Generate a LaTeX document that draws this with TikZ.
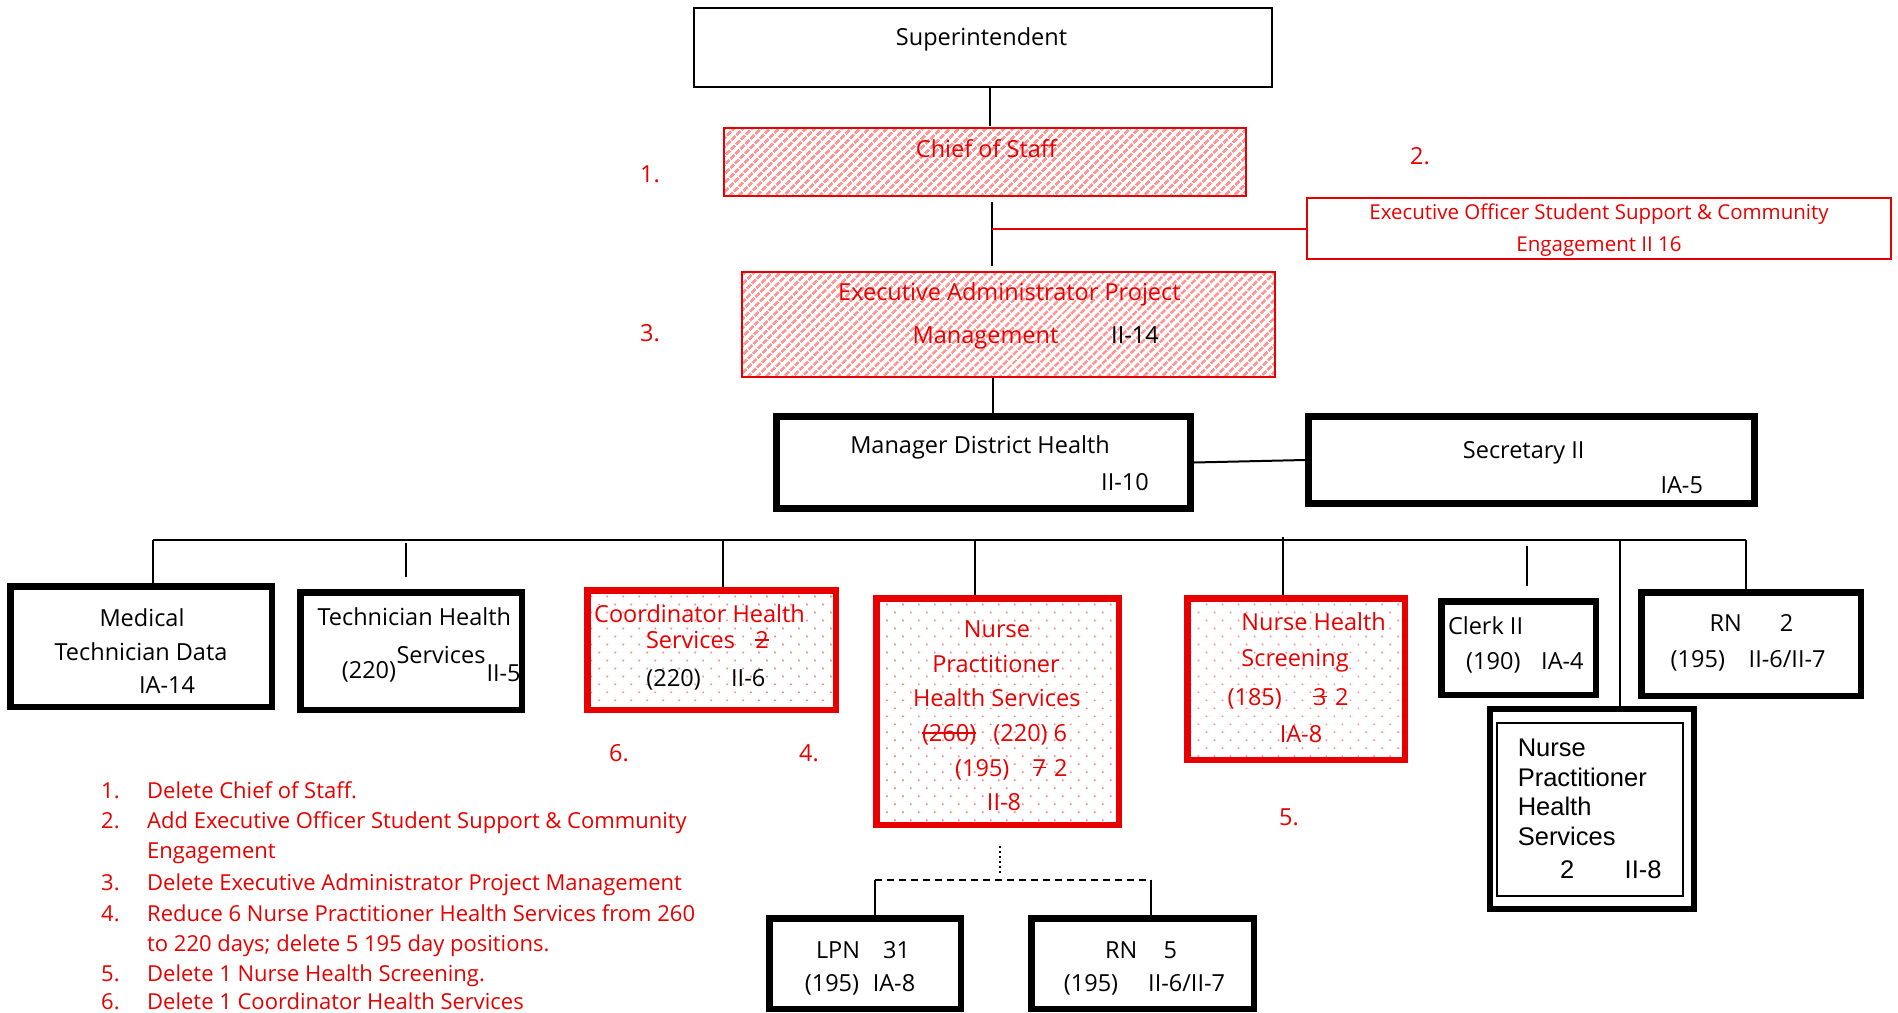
\documentclass[tikz,border=0pt]{standalone}
\usepackage{fontspec}
\setmainfont{Open Sans}
\newfontfamily\arialf{Liberation Sans}
\usetikzlibrary{patterns.meta}
\definecolor{myred}{RGB}{232,0,0}
\definecolor{hatchred}{RGB}{255,150,150}
\definecolor{dotred}{RGB}{250,135,135}
\newcommand{\strk}[1]{\begingroup\setbox0=\hbox{#1}\rlap{\rule[0.33em]{\wd0}{0.07em}}\box0\endgroup}
\newcommand{\fA}{\fontsize{23.5}{30}\selectfont}
\newcommand{\fB}{\fontsize{20.5}{26}\selectfont}
\newcommand{\fL}{\fontsize{22}{31}\selectfont}
\begin{document}
\begin{tikzpicture}[x=1pt,y=-1pt,
  bx/.style={draw=black, line width=2pt, inner sep=0pt},
  tbx/.style={draw=black, line width=6.5pt, inner sep=0pt},
  rbx/.style={draw=myred, line width=2pt, inner sep=0pt},
  hbx/.style={draw=myred, line width=2pt, inner sep=0pt, pattern={Lines[angle=45,distance=6.4pt,line width=3.2pt]}, pattern color=hatchred},
  dbx/.style={draw=myred, line width=6.5pt, inner sep=0pt, pattern={Dots[angle=45,radius=1.2pt,distance=11.3pt]}, pattern color=dotred},
  conn/.style={draw=black, line width=2pt},
  dotline/.style={draw=black, line width=2.5pt, dash pattern=on 2pt off 3pt},
  dashline/.style={draw=black, line width=2pt, dash pattern=on 7pt off 5pt},
  tx/.style={inner sep=0pt, anchor=base, font=\fA},
  txl/.style={inner sep=0pt, anchor=base west, font=\fA},
  rtx/.style={tx, text=myred},
  rtxl/.style={txl, text=myred},
  lst/.style={inner sep=0pt, anchor=base west, font=\fL, text=myred},
  atx/.style={inner sep=0pt, anchor=base west, font=\arialf\fontsize{25.5}{30}\selectfont}
]
\useasboundingbox (0,0) rectangle (1898,1012);

% boxes
\node[bx, minimum width=578pt, minimum height=79pt] (sup) at (983,47.5) {};
\node[hbx, minimum width=522pt, minimum height=68pt] (chief) at (985,162) {};
\node[hbx, minimum width=533pt, minimum height=105pt] (execadm) at (1008.5,324.5) {};
\node[rbx, minimum width=584pt, minimum height=61pt] (execoff) at (1599,228.5) {};
\node[tbx, line width=7pt, minimum width=414pt, minimum height=92pt] (mgr) at (983.5,462.5) {};
\node[tbx, line width=7pt, minimum width=446pt, minimum height=87pt] (sec) at (1531.5,460) {};
\node[tbx, minimum width=261.5pt, minimum height=120.5pt] (med) at (141,646.5) {};
\node[tbx, minimum width=221.5pt, minimum height=117.5pt] (tech) at (411,651) {};
\node[dbx, minimum width=248.5pt, minimum height=119.5pt] (coord) at (711.5,650) {};
\node[dbx, minimum width=242.5pt, minimum height=226.5pt] (np) at (997.5,711.5) {};
\node[dbx, minimum width=217.5pt, minimum height=161.5pt] (nhs) at (1296,679) {};
\node[tbx, minimum width=154.5pt, minimum height=93.5pt] (clerk) at (1518.5,648) {};
\node[tbx, minimum width=219.5pt, minimum height=103.5pt] (rntwo) at (1751,644) {};
\node[tbx, line width=6pt, minimum width=204pt, minimum height=200pt] (nphs) at (1592,809) {};
\node[bx, minimum width=186pt, minimum height=173pt] (nphsin) at (1590,809.5) {};
\node[tbx, minimum width=191.5pt, minimum height=90.5pt] (lpn) at (865,963.5) {};
\node[tbx, minimum width=222.5pt, minimum height=90.5pt] (rnfive) at (1142.5,963.5) {};

% connectors
\draw[conn] (990,0 |- sup.south) -- (990,0 |- chief.north);
\draw[conn, shorten <=4pt, shorten >=5pt] (992,0 |- chief.south) -- (992,0 |- execadm.north);
\draw[conn, draw=myred] (992,0 |- execoff.west) -- (execoff.west);
\draw[conn] (993,0 |- execadm.south) -- (993,0 |- mgr.north);
\draw[conn] (mgr.east) -- (sec.west);
\coordinate (busl) at (153,540);
\coordinate (busr) at (1746,540);
\draw[conn] (busl) -- (busr);
\draw[conn] (busl) -- (busl |- med.north);
\draw[conn, shorten <=3pt, shorten >=12pt] (406,540) -- (406,0 |- tech.north);
\draw[conn] (723,540) -- (723,0 |- coord.north);
\draw[conn] (975,540) -- (975,0 |- np.north);
\draw[conn] (1283,537) -- (1283,0 |- nhs.north);
\draw[conn, shorten <=6pt, shorten >=12pt] (1527,540) -- (1527,0 |- clerk.north);
\draw[conn] (1620,540) -- (1620,0 |- nphs.north);
\draw[conn] (busr) -- (busr |- rntwo.north);
\coordinate (npdrop) at (1000,846);
\coordinate (npdropend) at (1000,873);
\draw[dotline] (npdrop) -- (npdropend);
\coordinate (dl) at (875,880);
\coordinate (dr) at (1151,880);
\draw[dashline] (dl) -- (dr);
\draw[conn] (dl) -- (dl |- lpn.north);
\draw[conn] (dr) -- (dr |- rnfive.north);

% top texts
\node[tx] (tsup) at (981.5,45) {Superintendent};
\node[rtx] (tchief) at (986.4,157) {Chief of Staff};
\node[rtx] (tea1) at (1009.4,300) {Executive Administrator Project};
\node[rtx] (tea2) at (985.5,343.3) {Management};
\node[tx] (tea3) at (1135,343.3) {II-14};
\node[rtx, font=\fB] (teo1) at (1599,219.3) {Executive Officer Student Support \& Community};
\node[rtx, font=\fB] (teo2) at (1599,251) {Engagement II 16};
\node[tx] (tmgr1) at (980,453.3) {Manager District Health};
\node[tx] (tmgr2) at (1125,490) {II-10};
\node[tx] (tsec1) at (1523.7,458.3) {Secretary II};
\node[tx] (tsec2) at (1681.7,493.3) {IA-5};
\node[rtx] (m1) at (650,182.5) {1.};
\node[rtx] (m2) at (1420,164.5) {2.};
\node[rtx] (m3) at (650,341.5) {3.};

% row texts
\node[tx] (tmed1) at (142,626.7) {Medical};
\node[tx] (tmed2) at (141,660) {Technician Data};
\node[tx] (tmed3) at (167,693.3) {IA-14};
\node[tx] (ttech1) at (414.3,625) {Technician Health};
\node[tx] (ttech2) at (441,663.3) {Services};
\node[tx] (ttech3) at (369,678.3) {(220)};
\node[tx] (ttech4) at (503.6,681.7) {II-5};
\node[rtx] (tco1) at (699.5,622.7) {Coordinator Health};
\node[rtx] (tco2) at (690.5,648.3) {Services};
\node[rtx] (tco3) at (762,648.3) {\strk{2}};
\node[tx] (tco4) at (673.6,686) {(220)};
\node[tx] (tco5) at (748.2,686) {II-6};
\node[rtx] (m6) at (619,761.7) {6.};
\node[rtx] (m4) at (809,761.7) {4.};
\node[rtx] (tnp1) at (997,637.3) {Nurse};
\node[rtx] (tnp2) at (996,672.7) {Practitioner};
\node[rtx] (tnp3) at (996.8,706.7) {Health Services};
\node[rtxl] (tnp4) at (921.8,741.7) {\strk{(260)}};
\node[rtxl] (tnp5) at (993.2,741.7) {(220) 6};
\node[rtxl] (tnp6) at (955,776) {(195)};
\node[rtxl] (tnp7) at (1032.5,776) {\strk{7}};
\node[rtxl] (tnp8) at (1054,776) {2};
\node[rtx] (tnp9) at (1004,810) {II-8};
\node[rtxl] (tnh1) at (1241.2,630) {Nurse Health};
\node[rtxl] (tnh2) at (1241.2,666.7) {Screening};
\node[rtxl] (tnh3) at (1227.4,705) {(185)};
\node[rtxl] (tnh4) at (1313,705) {\strk{3}};
\node[rtxl] (tnh5) at (1335,705) {2};
\node[rtx] (tnh6) at (1301,742.7) {IA-8};
\node[rtx] (m5) at (1289,825) {5.};
\node[txl] (tcl1) at (1447.8,634.3) {Clerk II};
\node[txl] (tcl2) at (1466,669.3) {(190)};
\node[txl] (tcl3) at (1541,669.3) {IA-4};
\node[txl] (trn1) at (1709.5,631.7) {RN};
\node[txl] (trn2) at (1779.7,631.7) {2};
\node[txl] (trn3) at (1670.5,667.3) {(195)};
\node[txl] (trn4) at (1748.5,667.3) {II-6/II-7};
\node[atx] (tnps1) at (1517.6,756.7) {Nurse};
\node[atx] (tnps2) at (1517.6,786) {Practitioner};
\node[atx] (tnps3) at (1517.6,815) {Health};
\node[atx] (tnps4) at (1517.6,845) {Services};
\node[atx] (tnps5) at (1560,878.3) {2};
\node[atx] (tnps6) at (1624.5,878.3) {II-8};
\node[txl] (tlpn1) at (815.8,958.3) {LPN};
\node[txl] (tlpn2) at (882.9,958.3) {31};
\node[txl] (tlpn3) at (804.7,991.7) {(195)};
\node[txl] (tlpn4) at (872.6,991.7) {IA-8};
\node[txl] (trf1) at (1105,958.3) {RN};
\node[txl] (trf2) at (1163.5,958.3) {5};
\node[txl] (trf3) at (1063.7,991.7) {(195)};
\node[txl] (trf4) at (1148,991.7) {II-6/II-7};

% list
\node[lst] (n1) at (101,798.3) {1.};
\node[lst] (l1) at (147,798.3) {Delete Chief of Staff.};
\node[lst] (n2) at (101,828.3) {2.};
\node[lst] (l2) at (147,828.3) {Add Executive Officer Student Support \& Community};
\node[lst] (l2b) at (147,858.3) {Engagement};
\node[lst] (n3) at (101,890) {3.};
\node[lst] (l3) at (147,890) {Delete Executive Administrator Project Management};
\node[lst] (n4) at (101,921.7) {4.};
\node[lst] (l4) at (147,921.7) {Reduce 6 Nurse Practitioner Health Services from 260};
\node[lst] (l4b) at (147,951.7) {to 220 days; delete 5 195 day positions.};
\node[lst] (n5) at (101,981.7) {5.};
\node[lst] (l5) at (147,981.7) {Delete 1 Nurse Health Screening.};
\node[lst] (n6) at (101,1009.5) {6.};
\node[lst] (l6) at (147,1009.5) {Delete 1 Coordinator Health Services};
\end{tikzpicture}
\end{document}
